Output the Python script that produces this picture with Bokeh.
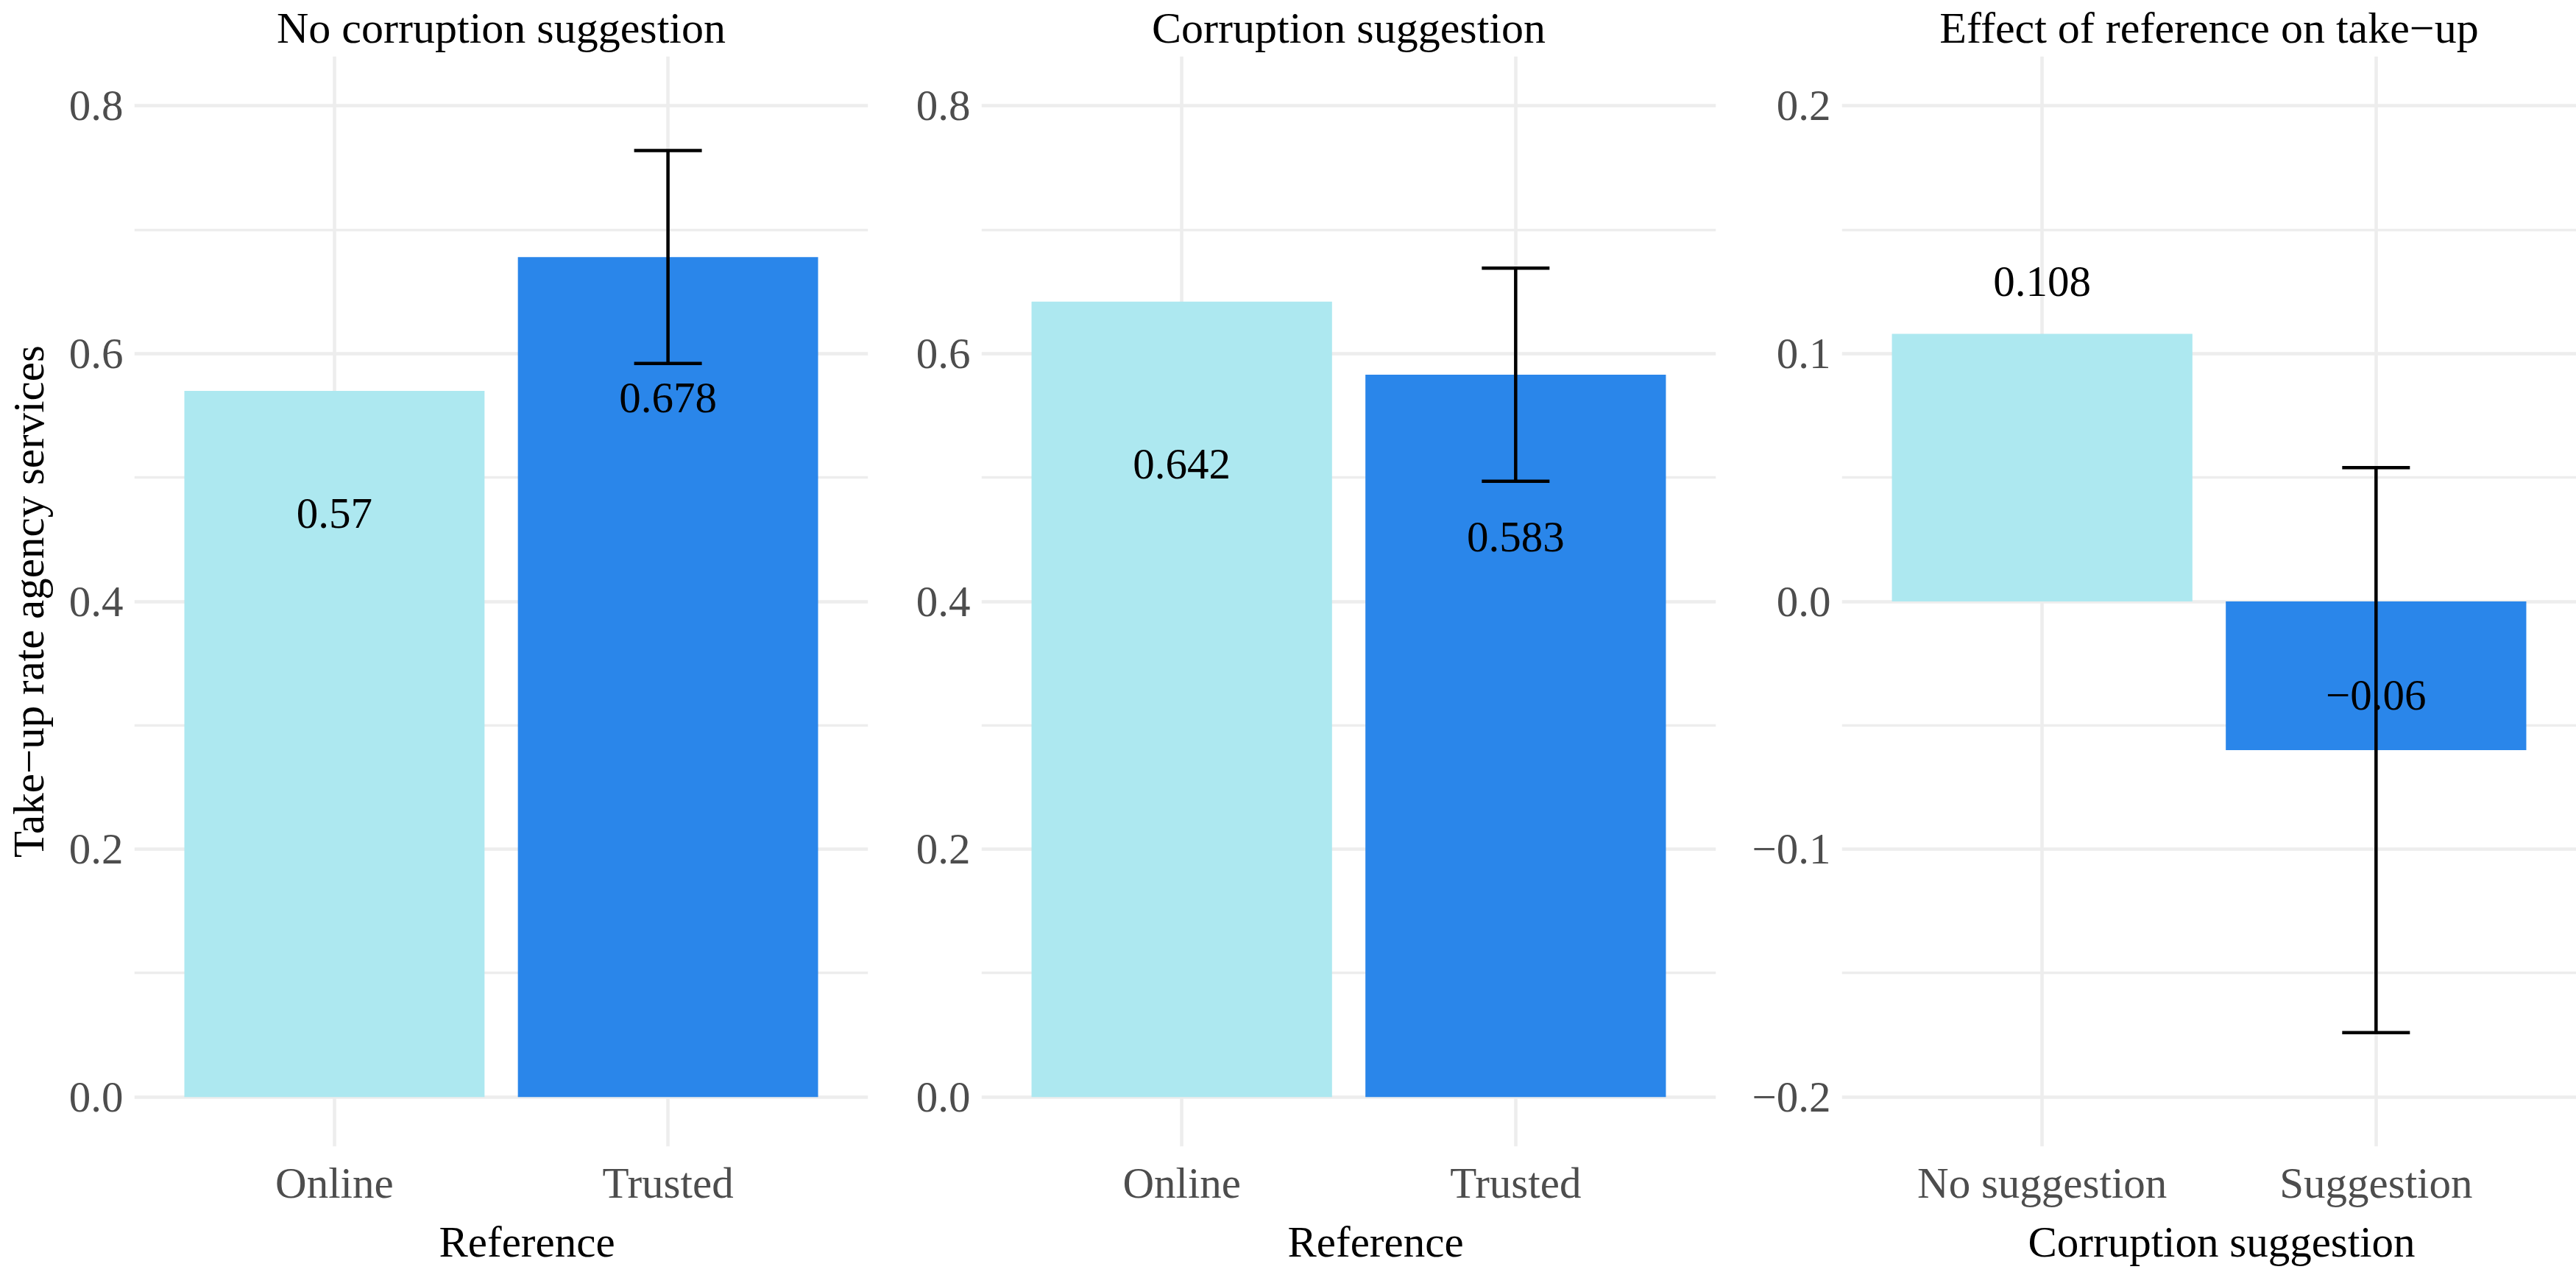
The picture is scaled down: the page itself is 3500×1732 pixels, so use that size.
from bokeh.plotting import figure
from bokeh.models import (FactorRange, FixedTicker, CustomJSTickFormatter, ColumnDataSource,
                          Whisker, TeeHead, Range1d, Title)
from bokeh.layouts import row
from bokeh.transform import factor_cmap
from bokeh.core.properties import value
from bokeh.embed import file_html
from bokeh.resources import INLINE

# ---------------- data ----------------
reference_cats = ["Online", "Trusted"]
suggestion_cats = ["No suggestion", "Suggestion"]

no_corruption_values = [0.570, 0.678]
corruption_values = [0.642, 0.583]
effect_values = [0.108, -0.060]

no_corruption_labels = ["0.57", "0.678"]
corruption_labels = ["0.642", "0.583"]
effect_labels = ["0.108", "\u22120.06"]

# where the value labels sit (data units)
no_corruption_label_y = [0.471, 0.564]
corruption_label_y = [0.511, 0.452]
effect_label_y = [0.129, -0.038]

# confidence intervals (only drawn for one bar per panel)
no_corruption_ci_cat = ["Trusted"]
no_corruption_ci_low = [0.592]
no_corruption_ci_high = [0.764]
corruption_ci_cat = ["Trusted"]
corruption_ci_low = [0.497]
corruption_ci_high = [0.669]
effect_ci_cat = ["Suggestion"]
effect_ci_low = [-0.174]
effect_ci_high = [0.054]

rate_ticks = [0.0, 0.2, 0.4, 0.6, 0.8]
rate_minor_ticks = [0.1, 0.3, 0.5, 0.7]
effect_ticks = [-0.2, -0.1, 0.0, 0.1, 0.2]
effect_minor_ticks = [-0.15, -0.05, 0.05, 0.15]

# ---------------- style ----------------
PALETTE = ["#ADE8F0", "#2A86EA"]
GRID = "#EDEDED"
FONT = "Liberation Serif"
TICK_COLOR = "#4D4D4D"
FS = "59px"
FIG_H = 1732
BORDER_TOP = 76
BORDER_BOTTOM = 172

fmt = CustomJSTickFormatter(code="""
var s = Math.abs(tick).toFixed(1);
return (tick < -1e-9 ? "\\u2212" : "") + s;
""")


def panel(title, cats, vals, labels, label_y, ci_cat, ci_low, ci_high,
          y_start, y_end, ticks, minor, xlabel, xlabel_offset, ylabel,
          width, border_left, border_right):
    p = figure(x_range=FactorRange(*cats, range_padding=0.1, range_padding_units="absolute"),
               y_range=Range1d(y_start, y_end),
               width=width, height=FIG_H,
               min_border_left=border_left, min_border_right=border_right,
               min_border_top=BORDER_TOP, min_border_bottom=BORDER_BOTTOM,
               output_backend="svg", toolbar_location=None, title=title)
    p.outline_line_color = None
    p.background_fill_color = "white"
    p.border_fill_color = "white"

    p.title.align = "center"
    p.title.vertical_align = "top"
    p.title.text_font = FONT
    p.title.text_font_size = "60px"
    p.title.text_font_style = "normal"
    p.title.text_color = "black"
    p.title.standoff = 7

    src = ColumnDataSource(dict(cat=cats, val=vals, label=labels, ly=label_y))
    p.vbar(x="cat", top="val", bottom=0, width=0.9, source=src, line_color=None,
           fill_color=factor_cmap("cat", palette=PALETTE, factors=cats))

    p.text(x="cat", y="ly", text="label", source=src, text_align="center",
           text_baseline="middle", text_font=value(FONT), text_font_size=value(FS),
           text_color="black")

    esrc = ColumnDataSource(dict(cat=ci_cat, low=ci_low, high=ci_high))
    w = Whisker(source=esrc, base="cat", lower="low", upper="high", dimension="height",
                line_color="black", line_width=4.5, level="overlay",
                upper_head=TeeHead(size=92, line_width=4.5, line_color="black"),
                lower_head=TeeHead(size=92, line_width=4.5, line_color="black"))
    p.add_layout(w)

    p.yaxis.ticker = FixedTicker(ticks=ticks, minor_ticks=minor)
    p.yaxis.formatter = fmt

    for ax in (p.xaxis, p.yaxis):
        ax.axis_line_color = None
        ax.major_tick_line_color = None
        ax.minor_tick_line_color = None
        ax.major_tick_in = 0
        ax.major_tick_out = 0
        ax.minor_tick_in = 0
        ax.minor_tick_out = 0
        ax.major_label_text_font = FONT
        ax.major_label_text_font_size = FS
        ax.major_label_text_color = TICK_COLOR
        ax.axis_label_text_font = FONT
        ax.axis_label_text_font_size = FS
        ax.axis_label_text_font_style = "normal"
        ax.axis_label_text_color = "black"

    p.xaxis.major_label_standoff = 16
    p.yaxis.major_label_standoff = 15
    if ylabel:
        p.yaxis.axis_label = ylabel
        p.yaxis.axis_label_standoff = 19

    # x axis title, as a title placed below the tick labels
    p.add_layout(Title(text=xlabel, align="left", offset=xlabel_offset,
                       vertical_align="top", standoff=22,
                       text_font=FONT, text_font_size=FS, text_font_style="normal",
                       text_color="black"), "below")

    p.xgrid.grid_line_color = GRID
    p.xgrid.grid_line_width = 4.5
    p.ygrid.grid_line_color = GRID
    p.ygrid.grid_line_width = 4.5
    p.ygrid.minor_grid_line_color = GRID
    p.ygrid.minor_grid_line_width = 3.5
    return p


p1 = panel("No corruption suggestion", reference_cats, no_corruption_values,
           no_corruption_labels, no_corruption_label_y,
           no_corruption_ci_cat, no_corruption_ci_low, no_corruption_ci_high,
           -0.04, 0.84, rate_ticks, rate_minor_ticks, "Reference", 414,
           "Take\u2212up rate agency services", 1200, 182, 21)
p2 = panel("Corruption suggestion", reference_cats, corruption_values,
           corruption_labels, corruption_label_y,
           corruption_ci_cat, corruption_ci_low, corruption_ci_high,
           -0.04, 0.84, rate_ticks, rate_minor_ticks, "Reference", 416,
           None, 1151, 133, 20)
p3 = panel("Effect of reference on take\u2212up", suggestion_cats, effect_values,
           effect_labels, effect_label_y,
           effect_ci_cat, effect_ci_low, effect_ci_high,
           -0.22, 0.22, effect_ticks, effect_minor_ticks, "Corruption suggestion", 253,
           None, 1149, 151, 0)

layout = row(p1, p2, p3)
open("out.html", "w").write(file_html(layout, INLINE))
